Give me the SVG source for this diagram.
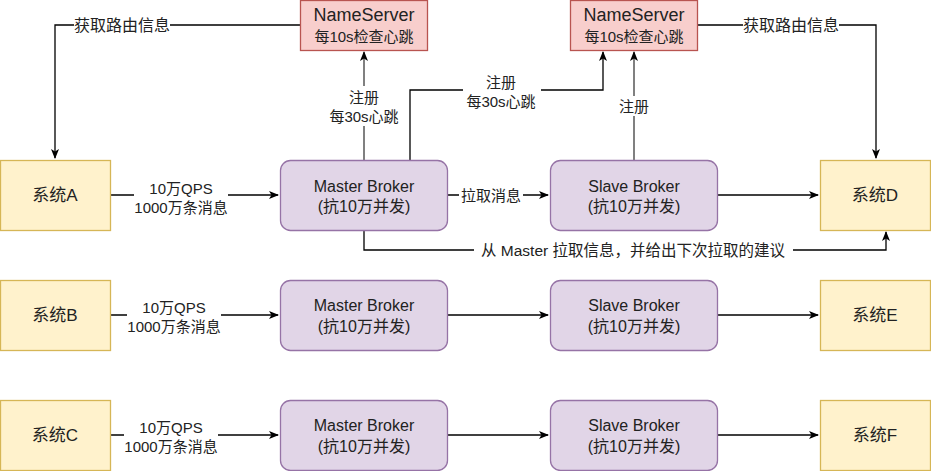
<svg xmlns="http://www.w3.org/2000/svg" width="931" height="471" viewBox="0 0 931 471">
<style>
text{font-family:"Liberation Sans","Noto Sans CJK SC",sans-serif;fill:#222;text-anchor:middle;dominant-baseline:central}
.sys{fill:#fff2cc;stroke:#d6b656;stroke-width:1.3}
.brk{fill:#e1d5e7;stroke:#9673a6;stroke-width:1.3}
.ns{fill:#f8cecc;stroke:#b85450;stroke-width:1.3}
.t17{font-size:17px}
.t16{font-size:16px}
.t15{font-size:15px}
.e{fill:none;stroke:#000;stroke-width:1.3}
.g{fill:none;stroke:#808080;stroke-width:2}
.bg{fill:#fff}
</style>
<defs>
<marker id="a" markerWidth="10" markerHeight="10" viewBox="0 0 10 10" refX="9" refY="5" orient="auto" markerUnits="userSpaceOnUse">
<path d="M0,1 L10,5 L0,9 L2.5,5 Z" fill="#000"/>
</marker>
</defs>
<rect width="931" height="471" fill="#fff"/>
<g id="edges">
<path class="e" d="M300,25 H55 V158" marker-end="url(#a)"/>
<rect class="bg" x="74" y="14" width="96" height="22"/>
<text class="t16" x="122" y="25">获取路由信息</text>
<path class="g" d="M364,160 V52" marker-end="url(#a)"/>
<rect class="bg" x="325" y="86" width="78" height="40"/>
<text class="t15" x="364" y="97">注册</text>
<text class="t15" x="364" y="116">每30s心跳</text>
<path class="e" d="M410,160 V90 H603 V52" marker-end="url(#a)"/>
<rect class="bg" x="463" y="72" width="78" height="40"/>
<text class="t15" x="501" y="82">注册</text>
<text class="t15" x="501" y="101">每30s心跳</text>
<path class="g" d="M634,160 V52" marker-end="url(#a)"/>
<rect class="bg" x="616" y="96" width="36" height="20"/>
<text class="t15" x="634" y="106">注册</text>
<path class="e" d="M697,25 H876 V158" marker-end="url(#a)"/>
<rect class="bg" x="743" y="14" width="96" height="22"/>
<text class="t16" x="791" y="25">获取路由信息</text>
<path class="e" d="M110,195 H278" marker-end="url(#a)"/>
<rect class="bg" x="134" y="178" width="94" height="38"/>
<text class="t15" x="181" y="188">10万QPS</text>
<text class="t15" x="181" y="207">1000万条消息</text>
<path class="e" d="M447,195 H548" marker-end="url(#a)"/>
<rect class="bg" x="459" y="185" width="64" height="20"/>
<text class="t15" x="491" y="195">拉取消息</text>
<path class="e" d="M717,195 H818" marker-end="url(#a)"/>
<path class="e" d="M364,230 V250 H886 V232" marker-end="url(#a)"/>
<rect class="bg" x="474" y="240" width="319" height="20"/>
<text x="633" y="250" style="font-size:15.5px">从 Master 拉取信息，并给出下次拉取的建议</text>
<path class="e" d="M110,315 H278" marker-end="url(#a)"/>
<rect class="bg" x="127" y="298" width="94" height="38"/>
<text class="t15" x="174" y="307">10万QPS</text>
<text class="t15" x="174" y="326">1000万条消息</text>
<path class="e" d="M447,315 H548" marker-end="url(#a)"/>
<path class="e" d="M717,315 H818" marker-end="url(#a)"/>
<path class="e" d="M110,435 H278" marker-end="url(#a)"/>
<rect class="bg" x="124" y="418" width="94" height="38"/>
<text class="t15" x="171" y="427">10万QPS</text>
<text class="t15" x="171" y="446">1000万条消息</text>
<path class="e" d="M447,435 H548" marker-end="url(#a)"/>
<path class="e" d="M717,435 H818" marker-end="url(#a)"/>
</g>
<g id="ns1"><rect class="ns" x="300.5" y="0.5" width="127" height="50"/>
<text x="364" y="15" style="font-size:18px">NameServer</text>
<text class="t15" x="364" y="36">每10s检查心跳</text></g>
<g id="ns2"><rect class="ns" x="570.5" y="0.5" width="127" height="50"/>
<text x="634" y="15" style="font-size:18px">NameServer</text>
<text class="t15" x="634" y="36">每10s检查心跳</text></g>
<g id="sysA"><rect class="sys" x="0.5" y="160.5" width="110" height="70"/><text class="t17" x="55" y="195">系统A</text></g>
<g id="sysB"><rect class="sys" x="0.5" y="280.5" width="110" height="70"/><text class="t17" x="55" y="315">系统B</text></g>
<g id="sysC"><rect class="sys" x="0.5" y="400.5" width="110" height="70"/><text class="t17" x="55" y="435">系统C</text></g>
<g id="m1"><rect class="brk" x="280.5" y="160.5" width="167" height="70" rx="10"/><text class="t16" x="364" y="186">Master Broker</text><text class="t16" x="364" y="206">(抗10万并发)</text></g>
<g id="m2"><rect class="brk" x="280.5" y="280.5" width="167" height="70" rx="10"/><text class="t16" x="364" y="305">Master Broker</text><text class="t16" x="364" y="326">(抗10万并发)</text></g>
<g id="m3"><rect class="brk" x="280.5" y="400.5" width="167" height="70" rx="10"/><text class="t16" x="364" y="425">Master Broker</text><text class="t16" x="364" y="446">(抗10万并发)</text></g>
<g id="s1"><rect class="brk" x="550.5" y="160.5" width="167" height="70" rx="10"/><text class="t16" x="634" y="186">Slave Broker</text><text class="t16" x="634" y="206">(抗10万并发)</text></g>
<g id="s2"><rect class="brk" x="550.5" y="280.5" width="167" height="70" rx="10"/><text class="t16" x="634" y="305">Slave Broker</text><text class="t16" x="634" y="326">(抗10万并发)</text></g>
<g id="s3"><rect class="brk" x="550.5" y="400.5" width="167" height="70" rx="10"/><text class="t16" x="634" y="425">Slave Broker</text><text class="t16" x="634" y="446">(抗10万并发)</text></g>
<g id="sysD"><rect class="sys" x="820.5" y="160.5" width="110" height="70"/><text class="t17" x="875" y="195">系统D</text></g>
<g id="sysE"><rect class="sys" x="820.5" y="280.5" width="110" height="70"/><text class="t17" x="875" y="315">系统E</text></g>
<g id="sysF"><rect class="sys" x="820.5" y="400.5" width="110" height="70"/><text class="t17" x="875" y="435">系统F</text></g>
</svg>
